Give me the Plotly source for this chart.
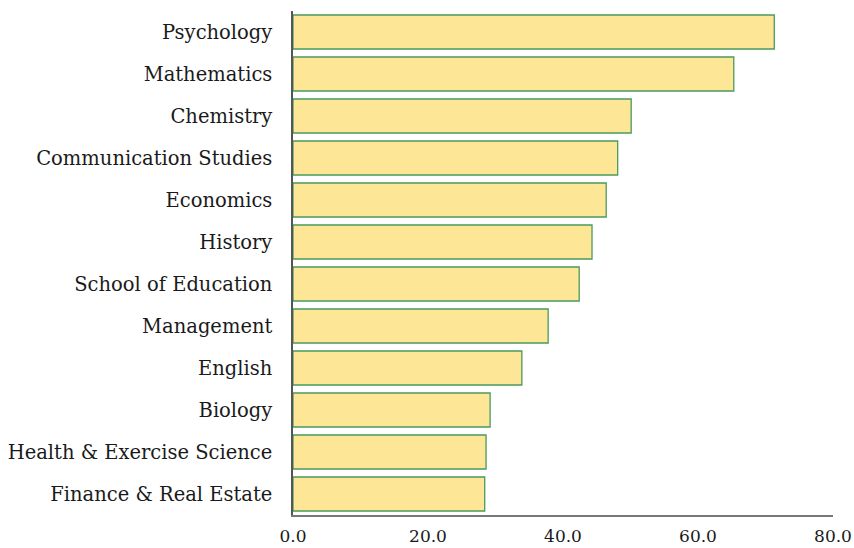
"""Horizontal bar chart of departments"""
import plotly.graph_objects as go

departments = [
    "Psychology",
    "Mathematics",
    "Chemistry",
    "Communication Studies",
    "Economics",
    "History",
    "School of Education",
    "Management",
    "English",
    "Biology",
    "Health & Exercise Science",
    "Finance & Real Estate",
]
values = [71.3, 65.3, 50.1, 48.1, 46.4, 44.3, 42.4, 37.8, 33.9, 29.2, 28.6, 28.4]
tick_vals = [0, 20, 40, 60, 80]
tick_text = ["0.0", "20.0", "40.0", "60.0", "80.0"]

fig = go.Figure(
    go.Bar(
        x=values,
        y=departments,
        orientation="h",
        marker=dict(color="#FEE697", line=dict(color="#4a9a5c", width=1.3)),
    )
)
fig.update_layout(
    width=854,
    height=548,
    margin=dict(l=293, r=21, t=11, b=33),
    plot_bgcolor="white",
    paper_bgcolor="white",
    font=dict(family="DejaVu Serif, Liberation Serif, serif", size=19.5, color="#1a1a1a"),
    bargap=0.19,
    showlegend=False,
)
fig.update_xaxes(
    range=[0, 80],
    tickvals=tick_vals,
    ticktext=tick_text,
    tickfont=dict(size=17),
    showgrid=False,
    zeroline=False,
    showline=True,
    linecolor="#777",
    linewidth=1.5,
    ticks="",
    ticklabelstandoff=5,
    automargin=False,
)
fig.update_yaxes(
    categoryorder="array",
    categoryarray=departments[::-1],
    showgrid=False,
    showline=True,
    linecolor="#555",
    linewidth=1.5,
    ticks="",
    ticklabelstandoff=15,
    automargin=False,
)
# the page has a default body margin; drop it so the chart sits at the corner
fig.write_html(
    "out.html",
    config={"displayModeBar": False},
    post_script="document.body.style.margin='0';document.body.style.overflow='hidden';",
)
